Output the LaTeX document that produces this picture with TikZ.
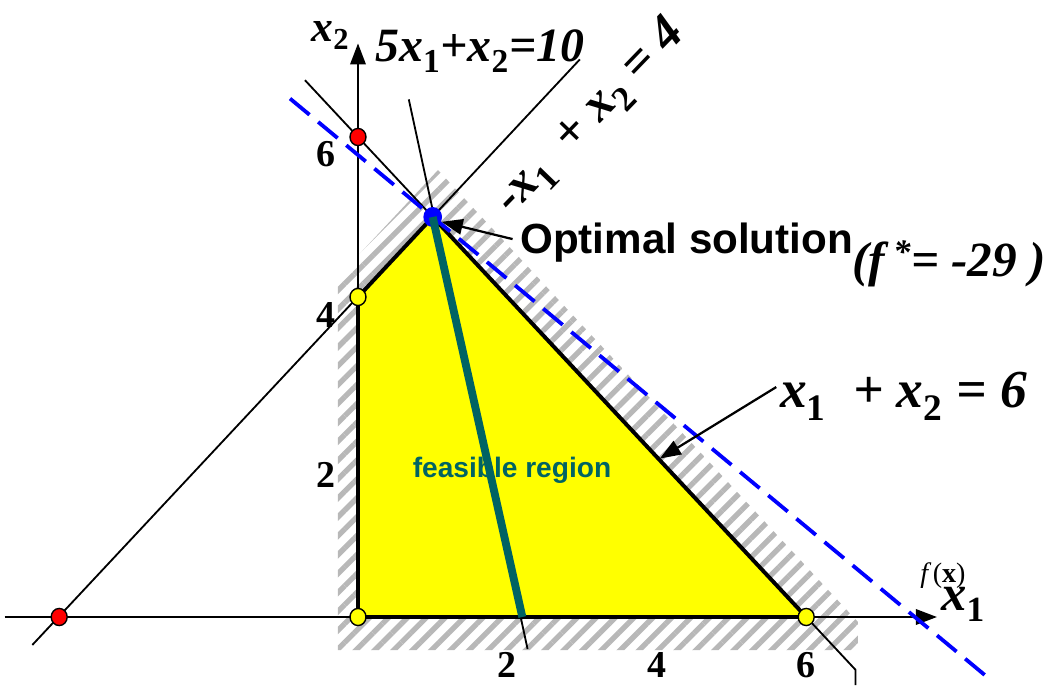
\documentclass[tikz,border=0pt]{standalone}
\usepackage{fontspec}
\setmainfont{Liberation Serif}
\setsansfont{Liberation Sans}
\usetikzlibrary{arrows.meta,patterns.meta,calc}
\definecolor{cteal}{HTML}{006363}
\definecolor{cblue}{HTML}{0000FF}
\definecolor{cred}{HTML}{FF0000}
\definecolor{cyell}{HTML}{FFFF00}
\definecolor{chatch}{HTML}{B8B8B8}
\newcommand{\setfs}[1]{\fontsize{#1}{#1}\selectfont}
\newcommand{\up}[1]{\textsubscript{\upshape #1}}

\begin{document}
\begin{tikzpicture}[x=1.8675cm, y=2cm,
      thinline/.style={line width=1.3pt},
      eqlabel/.style={font=\setfs{38pt}\bfseries\itshape, inner sep=0pt},
      ticklabel/.style={font=\setfs{27pt}\bfseries},
      dot/.style={draw=black, line width=1pt},
      pointer/.style={-{Triangle[length=15pt,width=11pt]}, line width=1.6pt}]
      \useasboundingbox (-4.7925,-0.85) rectangle (9.2369,7.7125);
      \coordinate (O) at (0,0);
      \coordinate (A) at (0,4);
      \coordinate (B) at (1,5);
      \coordinate (C) at (6,0);
      % hatched band and feasible region
      \fill[pattern={Lines[angle=45,distance=9.5pt,line width=3.8pt]}, pattern color=chatch] (-0.268,-0.4125) -- (-0.268,4.25) -- (1.071,5.5875) -- (6.693,-0.0625) -- (6.693,-0.4125) -- cycle;
      \fill[cyell] (O) -- (A) -- (B) -- (C) -- cycle;
      % constraint lines
      \draw[thinline] (-0.71,6.71) -- (6.66,-0.66) -- (6.66,-0.85);
      \draw[thinline] (-4.36,-0.35) -- (2.97,6.97);
      \draw[thinline] (0.68,6.47) -- (2.27,-0.4);
      % axes
      \draw[line width=1.5pt, -{Triangle[length=15pt,width=11pt]}] (-4.73,0) -- (7.75,0);
      \draw[line width=1.5pt, -{Triangle[length=15pt,width=11pt]}] (O) -- (0,7.17);
      \draw[line width=2.8pt, line join=miter] (O) -- (A) -- (B) -- (C) -- cycle;
      \draw[cblue, line width=2.7pt, dash pattern=on 18pt off 8pt] (-0.91,6.48) -- (8.5,-0.81);
      % points
      \foreach \p in {(0,6), (-4,0)} \filldraw[dot, fill=cred] \p circle (0.107);
      \foreach \p in {(O), (A), (C)} \filldraw[dot, fill=cyell] \p circle (0.107);
      \fill[cblue] (B) circle (0.125);
      \draw[cteal, line width=5.6pt] (B) -- (2.2,0);
      % labels
      \node[font=\setfs{30pt}\sffamily\bfseries, anchor=base west, inner sep=0pt] (opt) at (2.169,4.5375) {Optimal solution};
      \node[font=\setfs{35pt}\bfseries\itshape, anchor=base west, inner sep=0pt] (fval) at (6.613,4.26) {(f\,\textsuperscript{*}= -29 )};
      \draw[pointer] (opt.west) ++(-0.1,0.05) coordinate (optend) -- ($(B)+(0.12,-0.06)$);
      \node[eqlabel, font=\setfs{38pt}\bfseries\itshape, anchor=base west] (eqsix) at (5.649,2.6125) {x\up{1} \ + x\up{2} = 6};
      \node[eqlabel, font=\setfs{34pt}\bfseries\itshape, anchor=base west] (eqten) at (0.2276,6.9375) {5x\up{1}+x\up{2}=10};
      \node[eqlabel, font=\setfs{36pt}\bfseries\itshape, anchor=base west, rotate=46] (eqfour) at (2.06,5.02) {-x\up{1} \ + x\up{2} = 4};
      \coordinate (sixtip) at (4.04,1.98);
      \draw[pointer] (eqsix.west) ++(-0.05,0.12) -- (sixtip);
      \node[cteal, font=\setfs{20pt}\sffamily\bfseries] (feas) at (2.062,1.8375) {feasible region};
      % axis labels
      \foreach \y in {2,4,6} \node[ticklabel] (ty\y) at (-0.428,\y-0.22) {\y};
      \foreach \x in {2,4,6} \node[ticklabel] (tx\x) at (\x,-0.6) {\x};
      \node[font=\setfs{31pt}\bfseries\itshape] (xtwo) at (-0.37,7.27) {x\up{2}};
      \node[font=\setfs{36pt}\bfseries\itshape] (xone) at (8.1,0.16) {x\up{1}};
      \node[font=\setfs{20pt}] (fx) at (7.83,0.52) {\itshape f\,\upshape(\textbf{x})};
    \end{tikzpicture}
\end{document}
